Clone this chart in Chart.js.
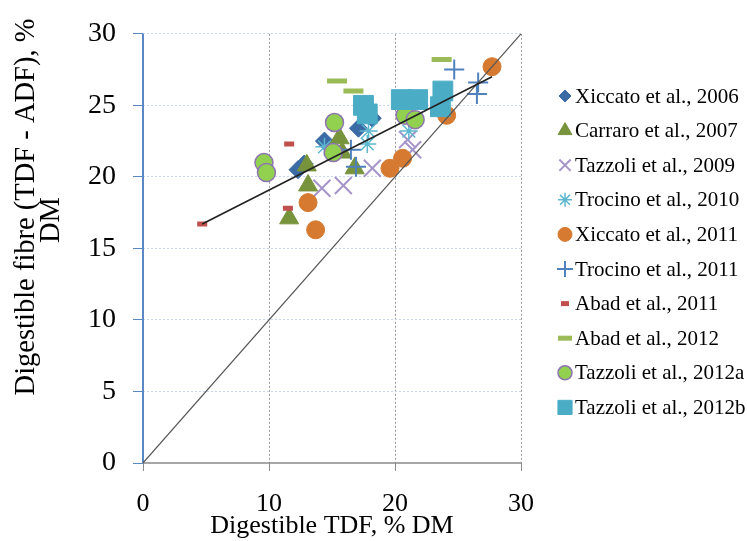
<!DOCTYPE html>
<html>
<head>
<meta charset="utf-8">
<script src="https://cdn.jsdelivr.net/npm/chart.js"></script>
<style>
  html, body { margin: 0; padding: 0; background: #fff; }
  #wrap { width: 747px; height: 541px; }
</style>
</head>
<body>
<div id="wrap"><canvas id="chart" width="747" height="541"></canvas></div>
<script>
// data: [digestible TDF, digestible fibre], % DM
const seriesNames = [
    'Xiccato et al., 2006', 'Carraro et al., 2007', 'Tazzoli et al., 2009',
    'Trocino et al., 2010', 'Xiccato et al., 2011', 'Trocino et al., 2011',
    'Abad et al., 2011', 'Abad et al., 2012', 'Tazzoli et al., 2012a', 'Tazzoli et al., 2012b'
];
const xiccato2006 = [[12.3, 20.5], [12.8, 20.9], [14.4, 22.5], [17.1, 23.4], [18.2, 24.1]];
const carraro2007 = [[11.6, 17.1], [13.1, 19.4], [13.0, 20.8], [15.6, 22.7], [15.8, 21.7], [16.8, 20.6]];
const tazzoli2009 = [[14.2, 19.2], [15.9, 19.4], [18.2, 20.6], [21.0, 22.6], [21.4, 21.9]];
const trocino2010 = [[14.4, 22.1], [17.8, 22.3], [17.9, 23.2], [21.1, 23.2]];
const xiccato2011 = [[13.1, 18.2], [13.7, 16.3], [19.6, 20.6], [20.6, 21.3], [24.1, 24.3], [27.7, 27.7]];
const trocino2011 = [[16.5, 21.9], [16.9, 20.7], [24.7, 27.5], [26.6, 26.6], [26.5, 25.8]];
const abad2011 = [[4.7, 16.7], [11.6, 22.3], [11.5, 17.8]];
const abad2012 = [[15.4, 26.7], [16.7, 26.0], [23.7, 28.2]];
const tazzoli2012a = [[9.6, 21.0], [9.8, 20.3], [15.2, 23.8], [15.1, 21.7], [20.8, 24.3], [21.6, 24.0]];
const tazzoli2012b = [[17.5, 25.0], [17.8, 24.4], [20.5, 25.4], [21.8, 25.4], [23.8, 26.0], [23.6, 24.9]];
const regressionLine = [[4.7, 16.7], [27.7, 27.0]];
const identityLine = [[0, 0], [30, 30]];
const xTicks = [0, 10, 20, 30];
const yTicks = [0, 5, 10, 15, 20, 25, 30];

const allSeries = [xiccato2006, carraro2007, tazzoli2009, trocino2010, xiccato2011,
    trocino2011, abad2011, abad2012, tazzoli2012a, tazzoli2012b];

// marker look for each series (plot radius r, legend radius lr)
const styles = [
    { ps: 'rectRot', r: 9, lr: 6, bg: '#3B6BA5', bc: '#3B6BA5', bw: 1 },
    { ps: 'triangle', r: 11, lr: 8, bg: '#77933C', bc: '#77933C', bw: 1 },
    { ps: 'crossRot', r: 12, lr: 8, bg: '#A595C9', bc: '#A595C9', bw: 2 },
    { ps: 'star', r: 9, lr: 7, bg: '#5DB7CF', bc: '#5DB7CF', bw: 1.5 },
    { ps: 'circle', r: 9, lr: 7, bg: '#D57A30', bc: '#D57A30', bw: 1 },
    { ps: 'cross', r: 10, lr: 8, bg: '#4F81BD', bc: '#4F81BD', bw: 2 },
    { ps: 'line', r: 5, lr: 4, bg: '#C0504D', bc: '#C0504D', bw: 5 },
    { ps: 'line', r: 10, lr: 7, bg: '#9BBB59', bc: '#9BBB59', bw: 5 },
    { ps: 'circle', r: 9, lr: 7, bg: '#92D050', bc: '#8E74B0', bw: 1.5 },
    { ps: 'rect', r: 14, lr: 10, bg: '#4BACC6', bc: '#4BACC6', bw: 1 }
];

const toXY = arr => arr.map(p => ({ x: p[0], y: p[1] }));

const datasets = allSeries.map((s, i) => ({
    label: seriesNames[i],
    data: toXY(s),
    pointStyle: styles[i].ps,
    pointRadius: styles[i].r,
    backgroundColor: styles[i].bg,
    borderColor: styles[i].bc,
    pointBorderWidth: styles[i].bw,
    order: 20 - i
}));
datasets.push({
    label: 'regression', data: toXY(regressionLine), showLine: true, pointRadius: 0,
    borderColor: '#222', borderWidth: 1.6, order: 1
});
datasets.push({
    label: 'identity', data: toXY(identityLine), showLine: true, pointRadius: 0,
    borderColor: '#555', borderWidth: 1.2, order: 2
});

const serif = '"Liberation Serif", "Times New Roman", serif';

const extras = {
    id: 'extras',
    beforeDatasetsDraw(chart) {
        // solid axis lines (grid lines stay dotted)
        const a = chart.chartArea, ctx = chart.ctx;
        ctx.save();
        ctx.setLineDash([]);
        ctx.lineWidth = 1.5;
        ctx.strokeStyle = '#8a8a8a';
        ctx.beginPath();
        ctx.moveTo(a.left, a.bottom);
        ctx.lineTo(a.right, a.bottom);
        ctx.stroke();
        ctx.lineWidth = 2;
        ctx.strokeStyle = '#5b87c5';
        ctx.beginPath();
        ctx.moveTo(a.left, a.top);
        ctx.lineTo(a.left, a.bottom);
        ctx.stroke();
        ctx.restore();
    },
    afterDraw(chart) {
        const ctx = chart.ctx;
        ctx.save();
        ctx.fillStyle = '#000';
        // axis titles
        ctx.font = '26px ' + serif;
        ctx.textAlign = 'center';
        ctx.textBaseline = 'alphabetic';
        ctx.fillText('Digestible TDF, % DM', 332, 533);
        ctx.save();
        ctx.translate(27, 207);
        ctx.rotate(-Math.PI / 2);
        ctx.font = '28.5px ' + serif;
        ctx.textBaseline = 'middle';
        ctx.fillText('Digestible fibre (TDF - ADF), %', 0, 0);
        ctx.restore();
        ctx.save();
        ctx.translate(52, 220);
        ctx.rotate(-Math.PI / 2);
        ctx.font = '28.5px ' + serif;
        ctx.textBaseline = 'middle';
        ctx.fillText('DM', 0, 0);
        ctx.restore();
        // legend
        ctx.font = '21px ' + serif;
        ctx.textAlign = 'left';
        ctx.textBaseline = 'middle';
        seriesNames.forEach((name, i) => {
            const y = 96 + i * 34.6;
            const st = styles[i];
            ctx.save();
            ctx.fillStyle = st.bg;
            ctx.strokeStyle = st.bc;
            ctx.lineWidth = st.bw;
            Chart.helpers.drawPoint(ctx, { pointStyle: st.ps, radius: st.lr, borderWidth: st.bw, rotation: 0 }, 565, y);
            ctx.restore();
            ctx.fillStyle = '#000';
            ctx.fillText(name, 575, y + 1);
        });
        ctx.restore();
    }
};

new Chart(document.getElementById('chart'), {
    type: 'scatter',
    data: { datasets },
    options: {
        responsive: false,
        animation: false,
        events: [],
        layout: { padding: { top: 25, right: 226, bottom: 0, left: 0 } },
        plugins: { legend: { display: false }, tooltip: { enabled: false } },
        scales: {
            x: {
                type: 'linear', min: 0, max: 30,
                afterFit: s => { s.height = 78; },
                afterBuildTicks: s => { s.ticks = xTicks.map(v => ({ value: v })); },
                ticks: { font: { family: serif, size: 26 }, color: '#000', padding: 18, maxRotation: 0 },
                grid: {
                    color: c => c.tick && c.tick.value === 0 ? 'rgba(0,0,0,0)' : '#9a9a9a',
                    tickColor: '#8a8a8a', tickLength: 8, lineWidth: 1
                },
                border: { display: false, dash: [2, 2] }
            },
            y: {
                type: 'linear', min: 0, max: 30,
                afterFit: s => { s.width = 143; },
                afterBuildTicks: s => { s.ticks = yTicks.map(v => ({ value: v })); },
                ticks: { font: { family: serif, size: 28 }, color: '#000', padding: 17 },
                grid: {
                    color: c => c.tick && c.tick.value === 0 ? 'rgba(0,0,0,0)' : '#c6d6ec',
                    tickColor: '#5b87c5', tickLength: 10, lineWidth: 1
                },
                border: { display: false, dash: [2, 2] }
            }
        }
    },
    plugins: [extras]
});
</script>
</body>
</html>
